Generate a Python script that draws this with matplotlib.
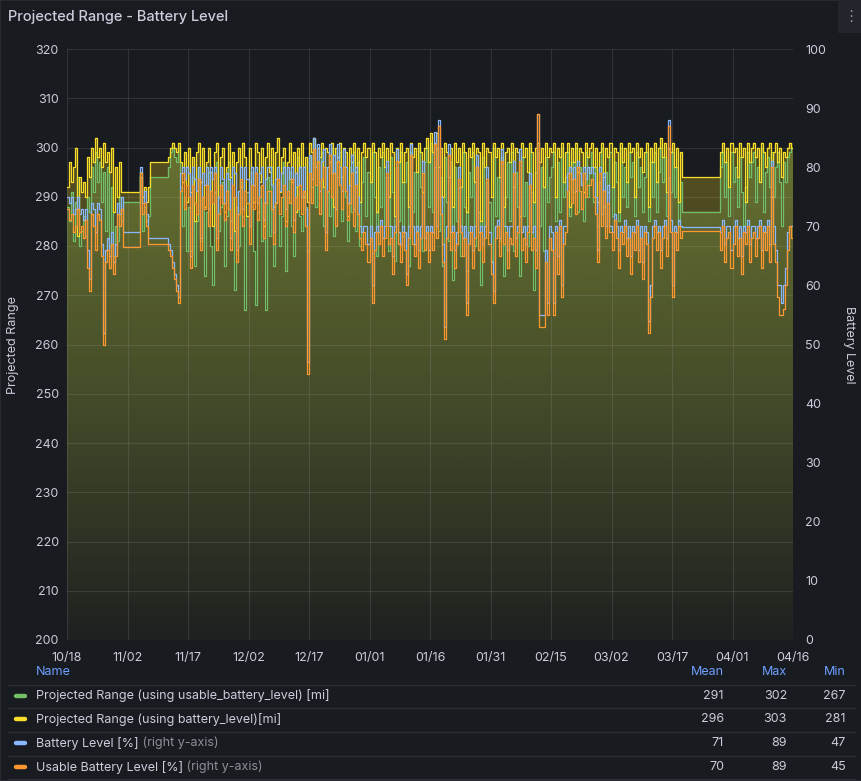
import matplotlib
matplotlib.use("Agg")
import matplotlib.pyplot as plt
import matplotlib.dates as mdates
import matplotlib.colors as mcolors
import numpy as np
from matplotlib.lines import Line2D
from matplotlib.patches import Rectangle

# ── palette (Grafana dark) ───────────────────────────────────────────────────
BG = "#181b1f"
TXT = "#ccccdc"
DIM = "#8e8e9a"
GRID = "#ccccdc"
HDR = "#6e9fff"
SEP = "#2c2f35"
GREEN, YELLOW, BLUE, ORANGE = "#73bf69", "#fade2a", "#8ab8ff", "#ff9830"

plt.rcParams["font.family"] = ["Inter", "DejaVu Sans"]

# ── data: one sample every 12 h from 2024-10-18 to 2025-04-16 ────────────────
START = "2024-10-18"
N_SAMPLES = 361

range_usable = [  # Projected Range (using usable_battery_level) [mi]
    288, 285, 291, 281, 289, 294, 280, 283, 286, 282, 290, 287, 296, 291, 299, 293, 297, 289, 295, 283,
    296, 280, 292, 278, 284, 281, 290, 285, 289, 289, 289, 289, 289, 289, 289, 289, 295, 283, 288, 285,
    286, 294, 294, 294, 294, 294, 294, 294, 294, 294, 296, 299, 300, 298, 297, 300, 292, 284, 290, 279,
    288, 279, 294, 276, 285, 296, 281, 290, 274, 287, 295, 280, 272, 291, 297, 283, 288, 293, 276, 286,
    297, 285, 290, 271, 288, 280, 293, 286, 267, 291, 284, 295, 279, 268, 287, 292, 281, 289, 267, 294,
    282, 296, 276, 289, 293, 280, 286, 297, 275, 290, 295, 284, 278, 292, 298, 286, 283, 291, 288, 279,
    298, 292, 302, 288, 297, 293, 299, 284, 296, 291, 286, 300, 282, 297, 294, 299, 285, 296, 290, 281,
    296, 287, 299, 283, 297, 280, 293, 298, 286, 295, 281, 299, 290, 278, 296, 288, 299, 284, 294, 279,
    298, 291, 277, 296, 285, 299, 282, 293, 297, 276, 299, 287, 295, 283, 300, 292, 279, 297, 300, 288,
    301, 287, 296, 300, 283, 294, 276, 298, 289, 281, 297, 273, 296, 285, 292, 278, 299, 288, 275, 295,
    290, 299, 280, 296, 287, 272, 298, 284, 293, 289, 277, 300, 286, 294, 281, 298, 274, 290, 297, 285,
    299, 279, 295, 288, 274, 298, 286, 293, 280, 300, 291, 271, 295, 299, 284, 296, 279, 298, 289, 294,
    296, 299, 285, 297, 287, 300, 290, 294, 299, 286, 297, 291, 300, 287, 296, 293, 285, 299, 290, 296,
    299, 289, 296, 284, 293, 300, 288, 295, 291, 299, 286, 297, 293, 285, 300, 290, 296, 288, 299, 294,
    297, 286, 299, 292, 296, 287, 294, 299, 285, 297, 290, 299, 287, 295, 300, 293, 298, 286, 294, 291,
    299, 290, 296, 285, 293, 287, 287, 287, 287, 287, 287, 287, 287, 287, 287, 287, 287, 287, 287, 287,
    287, 287, 287, 287, 296, 299, 290, 297, 286, 299, 293, 296, 288, 298, 291, 284, 292, 299, 294, 297,
    299, 289, 296, 293, 300, 287, 295, 298, 292, 299, 290, 296, 299, 293, 284, 297, 293, 298, 299, 300, 300,
]

range_battery = [  # Projected Range (using battery_level)[mi]
    292, 297, 293, 296, 300, 282, 294, 291, 293, 290, 298, 294, 300, 297, 302, 298, 300, 296, 301, 297,
    299, 295, 300, 287, 296, 290, 297, 291, 291, 291, 291, 291, 291, 291, 291, 291, 294, 290, 292, 289,
    292, 297, 297, 297, 297, 297, 297, 297, 297, 297, 298, 300, 301, 300, 299, 301, 297, 293, 299, 289,
    300, 291, 298, 285, 299, 301, 293, 300, 288, 297, 300, 295, 284, 299, 301, 290, 298, 300, 287, 296,
    301, 294, 299, 283, 297, 300, 292, 301, 298, 286, 300, 296, 289, 301, 299, 293, 300, 284, 298, 301,
    295, 300, 288, 299, 302, 291, 298, 300, 285, 297, 301, 293, 299, 287, 300, 296, 301, 290, 298, 289,
    301, 299, 302, 296, 300, 298, 301, 292, 300, 299, 297, 301, 288, 300, 298, 301, 294, 300, 299, 286,
    300, 297, 301, 295, 300, 289, 299, 301, 298, 300, 293, 301, 299, 287, 300, 298, 301, 296, 300, 290,
    301, 299, 286, 300, 297, 301, 293, 299, 300, 288, 301, 298, 300, 295, 301, 299, 291, 300, 302, 297,
    303, 299, 301, 303, 296, 300, 290, 301, 299, 294, 300, 288, 301, 297, 300, 292, 301, 299, 287, 300,
    298, 301, 293, 300, 299, 285, 301, 296, 300, 299, 290, 301, 298, 300, 294, 301, 288, 299, 300, 297,
    301, 292, 300, 299, 286, 301, 298, 300, 295, 301, 299, 289, 300, 301, 297, 300, 292, 301, 298, 300,
    299, 301, 290, 300, 298, 301, 293, 299, 301, 288, 300, 297, 301, 295, 300, 299, 291, 301, 298, 300,
    301, 296, 300, 289, 299, 301, 294, 300, 298, 301, 292, 300, 299, 287, 301, 297, 300, 293, 301, 299,
    300, 290, 301, 298, 300, 295, 299, 301, 288, 300, 297, 301, 293, 300, 302, 298, 301, 291, 300, 299,
    301, 296, 300, 289, 299, 294, 294, 294, 294, 294, 294, 294, 294, 294, 294, 294, 294, 294, 294, 294,
    294, 294, 294, 294, 299, 301, 297, 300, 292, 301, 299, 300, 294, 301, 298, 300, 289, 301, 297, 300,
    301, 298, 300, 293, 301, 299, 296, 300, 301, 290, 299, 301, 297, 300, 294, 299, 298, 300, 301, 300, 301,
]

battery_level = [  # Battery Level [%]
    75, 74, 75, 72, 73, 75, 72, 73, 71, 73, 66, 61, 74, 73, 69, 74, 73, 67, 52, 66,
    68, 65, 69, 64, 67, 74, 72, 75, 69, 69, 69, 69, 69, 69, 69, 69, 80, 74, 76, 72,
    68, 68, 68, 68, 68, 68, 68, 68, 68, 68, 67, 66, 64, 62, 60, 58, 79, 80, 78, 80,
    79, 65, 80, 78, 76, 80, 68, 79, 77, 80, 73, 80, 78, 80, 68, 75, 80, 78, 74, 79,
    78, 68, 80, 79, 66, 76, 80, 73, 80, 78, 70, 80, 77, 80, 74, 79, 80, 71, 78, 80,
    80, 77, 69, 78, 80, 76, 79, 80, 73, 80, 78, 80, 71, 79, 77, 80, 75, 80, 73, 47,
    82, 78, 85, 80, 84, 76, 81, 83, 69, 80, 84, 79, 82, 73, 84, 80, 76, 83, 80, 74,
    77, 82, 73, 80, 75, 70, 69, 70, 70, 67, 70, 60, 69, 70, 69, 71, 68, 70, 81, 70,
    70, 65, 70, 83, 69, 67, 70, 69, 62, 70, 84, 70, 67, 70, 66, 70, 81, 68, 70, 66,
    70, 69, 86, 70, 88, 75, 67, 53, 70, 84, 69, 70, 66, 69, 80, 70, 68, 70, 57, 69,
    70, 66, 70, 82, 69, 70, 67, 70, 80, 69, 64, 59, 70, 71, 68, 83, 70, 70, 66, 70,
    70, 81, 68, 70, 83, 69, 70, 67, 70, 79, 69, 70, 66, 89, 55, 55, 55, 66, 57, 70,
    69, 57, 70, 65, 71, 60, 70, 70, 79, 80, 78, 80, 76, 81, 79, 77, 80, 78, 80, 79,
    80, 79, 75, 66, 80, 72, 79, 70, 77, 70, 69, 72, 70, 66, 70, 69, 71, 68, 70, 65,
    70, 69, 71, 66, 70, 64, 70, 69, 54, 60, 70, 71, 69, 70, 66, 70, 71, 68, 88, 71,
    60, 70, 69, 71, 70, 69.9, 69.9, 69.9, 69.9, 69.9, 69.9, 69.9, 69.9, 69.9, 69.9, 69.9, 69.9, 69.9, 69.9, 69.9,
    69.9, 69.9, 69.9, 69.9, 69, 71, 67, 70, 70, 66, 70, 71, 68, 70, 65, 70, 69, 71, 67, 70,
    70, 68, 70, 71, 66, 70, 69, 71, 67, 81, 70, 66, 60, 60, 57, 60, 63, 69, 70, 70, 70,
]

usable_level = [  # Usable Battery Level [%]
    73, 71, 72, 69, 70, 73, 69, 70, 68, 71, 63, 59, 72, 70, 66, 72, 71, 65, 50, 64,
    66, 63, 67, 62, 65, 72, 70, 73, 66.5, 66.5, 66.5, 66.5, 66.5, 66.5, 66.5, 66.5, 79, 72, 74, 70,
    67, 67, 67, 67, 67, 67, 67, 67, 67, 67, 66, 65, 63, 61, 59, 57, 76, 79, 73, 77,
    75, 63, 77, 74, 72, 78, 66, 75, 73, 77, 70, 76, 74, 79, 66, 72, 77, 74, 71, 76,
    73, 66, 77, 75, 64, 72, 78, 70, 76, 74, 67, 77, 73, 79, 71, 75, 77, 68, 74, 76,
    76, 73, 67, 74, 78, 72, 75, 77, 70, 76, 74, 78, 69, 75, 73, 77, 72, 76, 70, 45,
    79, 74, 83, 77, 81, 72, 78, 80, 66, 76, 82, 75, 79, 70, 81, 77, 73, 80, 76, 71,
    74, 79, 70, 77, 72, 68, 66, 69, 67, 64, 68, 57, 66, 69, 67, 70, 65, 68, 79, 67,
    68, 62, 69, 81, 67, 64, 69, 66, 60, 68, 82, 67, 65, 69, 63, 68, 79, 66, 69, 64,
    69, 66, 84, 68, 87, 72, 64, 51, 68, 82, 66, 69, 63, 67, 78, 69, 65, 68, 55, 67,
    69, 63, 68, 80, 66, 69, 64, 68, 78, 67, 62, 57, 68, 70, 65, 81, 67, 69, 63, 68,
    67, 79, 65, 69, 81, 66, 68, 64, 69, 77, 66, 68, 63, 89, 53, 53, 53, 64, 55, 68,
    66, 55, 69, 62, 70, 58, 67, 69, 76, 79, 74, 78, 72, 80, 76, 73, 79, 75, 77, 77,
    78, 75, 72, 64, 79, 70, 76, 68, 74, 69, 66, 71, 68, 63, 69, 67, 70, 65, 68, 62,
    69, 66, 70, 64, 68, 61, 69, 67, 52, 58, 68, 70, 66, 69, 63, 68, 70, 65, 87, 69,
    58, 69, 66, 70, 68, 69.2, 69.2, 69.2, 69.2, 69.2, 69.2, 69.2, 69.2, 69.2, 69.2, 69.2, 69.2, 69.2, 69.2, 69.2,
    69.2, 69.2, 69.2, 69.2, 66, 70, 64, 68, 69, 63, 67, 70, 65, 68, 62, 69, 67, 70, 64, 68,
    69, 65, 68, 70, 63, 69, 66, 70, 64, 80, 67, 64, 58, 55, 55, 56, 60, 66, 70, 68, 68,
]

legend_names = [
    "Projected Range (using usable_battery_level) [mi]",
    "Projected Range (using battery_level)[mi]",
    "Battery Level [%]",
    "Usable Battery Level [%]",
]
legend_suffix = ["", "", " (right y-axis)", " (right y-axis)"]
legend_colors = [GREEN, YELLOW, BLUE, ORANGE]
stat_mean = [291, 296, 71, 70]
stat_max = [302, 303, 89, 89]
stat_min = [267, 281, 47, 45]

W, H = 862, 781


def fx(px):
    return px / W


def fy(py):
    return 1 - py / H


def gradient_fill(ax, x, y, color, lo, hi, top_alpha=0.33, bottom_alpha=0.02):
    poly = ax.fill_between(x, y, lo, step="post", facecolor="none", edgecolor="none")
    rgba = np.zeros((256, 1, 4))
    rgba[..., :3] = mcolors.to_rgb(color)
    rgba[..., 3] = np.linspace(bottom_alpha, top_alpha, 256)[:, None]
    im = ax.imshow(rgba, extent=[x[0], x[-1], lo, hi], origin="lower",
                   aspect="auto", zorder=0.5, interpolation="bilinear")
    im.set_clip_path(poly.get_paths()[0], ax.transData)


fig = plt.figure(figsize=(W / 100, H / 100), dpi=100, facecolor=BG)
fig.patches.append(Rectangle((0, 0), 1, 1, transform=fig.transFigure, fill=False,
                             edgecolor="#2a2d33", lw=1.2))

times = np.datetime64(START) + np.arange(N_SAMPLES) * np.timedelta64(12, "h")
x = mdates.date2num(times)

ax = fig.add_axes([fx(67), fy(640), fx(793 - 67), (640 - 49) / H])
ax.set_facecolor(BG)
ax2 = ax.twinx()

gradient_fill(ax, x, range_usable, GREEN, 200, 320)
gradient_fill(ax, x, range_battery, YELLOW, 200, 320)
ax.plot(x, range_usable, drawstyle="steps-post", color=GREEN, lw=0.9, zorder=2)
ax.plot(x, range_battery, drawstyle="steps-post", color=YELLOW, lw=0.9, zorder=2.1)
ax2.plot(x, battery_level, drawstyle="steps-post", color=BLUE, lw=0.9)
ax2.plot(x, usable_level, drawstyle="steps-post", color=ORANGE, lw=0.9)

ax.set_xlim(x[0], x[-1])
ax.set_ylim(200, 320)
ax2.set_ylim(0, 100)
ax.set_yticks(np.arange(200, 321, 10))
ax2.set_yticks(np.arange(0, 101, 10))
ticks = mdates.date2num(np.datetime64(START) + np.arange(13) * np.timedelta64(15, "D"))
ax.set_xticks(ticks)
ax.xaxis.set_major_formatter(mdates.DateFormatter("%m/%d"))

ax.set_axisbelow("line")
ax.grid(True, color=GRID, alpha=0.13, lw=0.8)
for a in (ax, ax2):
    for s in a.spines.values():
        s.set_visible(False)
    a.tick_params(length=0, colors=TXT, labelsize=9)
ax.tick_params(axis="y", pad=6)
ax2.tick_params(axis="y", pad=9)
ax.tick_params(axis="x", pad=9)

fig.text(fx(13), fy(345), "Projected Range", rotation=90, ha="center", va="center",
         color=TXT, fontsize=9)
fig.text(fx(849), fy(345), "Battery Level", rotation=270, ha="center", va="center",
         color=TXT, fontsize=9)

# title + panel menu
fig.text(fx(8), fy(17), "Projected Range - Battery Level", ha="left", va="center",
         color=TXT, fontsize=10.5, fontweight="medium")
fig.patches.append(Rectangle((fx(838), fy(33)), fx(24), 33 / H, transform=fig.transFigure,
                             facecolor="#22252b", edgecolor="none"))
fig.text(fx(851), fy(16), "\u22ee", ha="center", va="center", color=DIM, fontsize=11,
         family="DejaVu Sans")

# legend table
fig.text(fx(36), fy(672), "Name", ha="left", va="center", color=HDR, fontsize=9)
for lbl, px in zip(["Mean", "Max", "Min"], [724, 787, 846]):
    fig.text(fx(px), fy(672), lbl, ha="right", va="center", color=HDR, fontsize=9)
for py in [685, 708, 732, 756, 779]:
    fig.add_artist(Line2D([fx(8), fx(855)], [fy(py), fy(py)], color=SEP, lw=0.9))
for i, py in enumerate([696, 719, 743, 767]):
    fig.add_artist(Line2D([fx(16), fx(25)], [fy(py), fy(py)], color=legend_colors[i],
                          lw=3.2, solid_capstyle="round"))
    t = fig.text(fx(36), fy(py), legend_names[i], ha="left", va="center", color=TXT, fontsize=9)
    if legend_suffix[i]:
        fig.canvas.draw()
        bb = t.get_window_extent()
        fig.text(bb.x1 / W, fy(py), legend_suffix[i], ha="left", va="center",
                 color=DIM, fontsize=9)
    for val, px in zip([stat_mean[i], stat_max[i], stat_min[i]], [724, 787, 846]):
        fig.text(fx(px), fy(py), str(val), ha="right", va="center", color=TXT, fontsize=9)

fig.savefig("out.png", dpi=100, facecolor=BG)
